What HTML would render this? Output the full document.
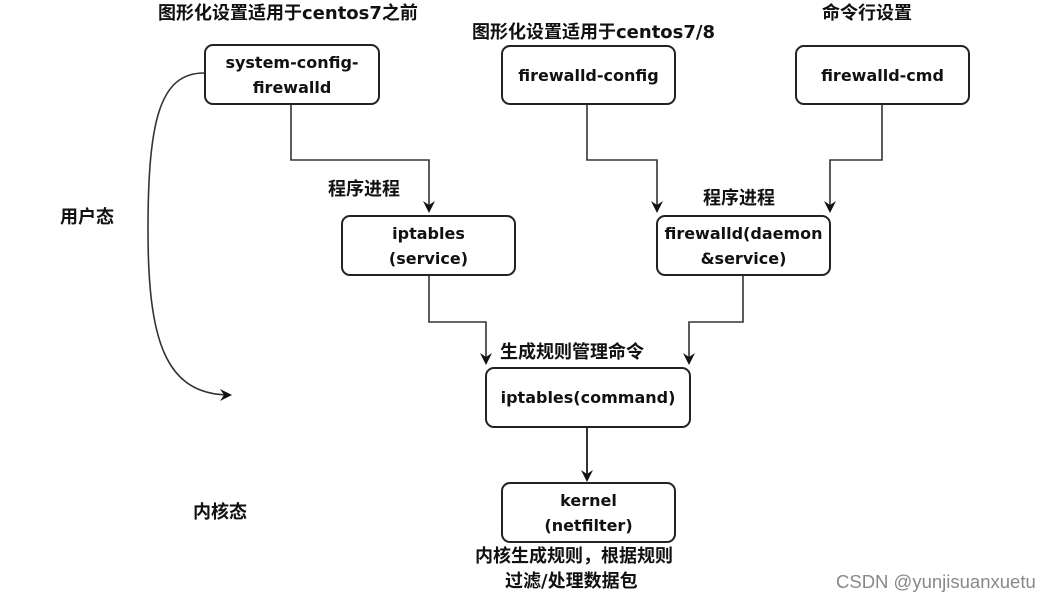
<!DOCTYPE html>
<html><head><meta charset="utf-8"><style>
html,body{margin:0;padding:0;background:#fff;}
body{width:1051px;height:601px;position:relative;overflow:hidden;font-family:"DejaVu Sans","Noto Sans CJK SC",sans-serif;}
.b{position:absolute;border:2px solid #222;border-radius:9px;box-sizing:border-box;display:flex;align-items:center;justify-content:center;text-align:center;font-weight:bold;font-size:16px;line-height:25px;color:#111;background:#fff;white-space:nowrap;}
.t{position:absolute;font-weight:bold;font-size:18px;color:#111;white-space:nowrap;line-height:22px;}
svg{position:absolute;left:0;top:0;}
</style></head><body>
<svg width="1051" height="601">
<defs><marker id="a" markerWidth="12" markerHeight="12" refX="10" refY="6" orient="auto" markerUnits="userSpaceOnUse"><path d="M0,0 L12,6 L0,12 L4,6 Z" fill="#111"/></marker></defs>
<g fill="none" stroke="#333" stroke-width="1.6">
<path d="M291,104 V160 H429 V211" marker-end="url(#a)"/>
<path d="M587,104 V160 H657 V211" marker-end="url(#a)"/>
<path d="M882,104 V160 H830 V211" marker-end="url(#a)"/>
<path d="M429,275 V322 H486 V363" marker-end="url(#a)"/>
<path d="M743,275 V322 H689 V363" marker-end="url(#a)"/>
<path d="M587,427 V480" stroke-width="2" marker-end="url(#a)"/>
<path d="M204,73 C160,73 148,120 148,230 C148,340 165,395 230,395" marker-end="url(#a)"/>
</g>
</svg>
<div class="b" style="left:204px;top:44px;width:176px;height:61px;">system-config-<br>firewalld</div>
<div class="b" style="left:501px;top:45px;width:175px;height:60px;">firewalld-config</div>
<div class="b" style="left:795px;top:45px;width:175px;height:60px;">firewalld-cmd</div>
<div class="b" style="left:341px;top:215px;width:175px;height:61px;">iptables<br>(service)</div>
<div class="b" style="left:656px;top:215px;width:175px;height:61px;">firewalld(daemon<br>&amp;service)</div>
<div class="b" style="left:485px;top:367px;width:206px;height:61px;">iptables(command)</div>
<div class="b" style="left:501px;top:482px;width:175px;height:61px;">kernel<br>(netfilter)</div>
<div class="t" style="left:158px;top:3px;">图形化设置适用于centos7之前</div>
<div class="t" style="left:472px;top:22px;">图形化设置适用于centos7/8</div>
<div class="t" style="left:822px;top:3px;">命令行设置</div>
<div class="t" style="left:328px;top:179px;">程序进程</div>
<div class="t" style="left:703px;top:188px;">程序进程</div>
<div class="t" style="left:60px;top:207px;">用户态</div>
<div class="t" style="left:500px;top:342px;">生成规则管理命令</div>
<div class="t" style="left:193px;top:502px;">内核态</div>
<div class="t" style="left:475px;top:546px;">内核生成规则，根据规则</div>
<div class="t" style="left:505px;top:571px;">过滤/处理数据包</div>
<div style="position:absolute;left:836px;top:571px;font-family:'Liberation Sans',sans-serif;font-size:18.5px;color:#888;white-space:nowrap;">CSDN @yunjisuanxuetu</div>
</body></html>
